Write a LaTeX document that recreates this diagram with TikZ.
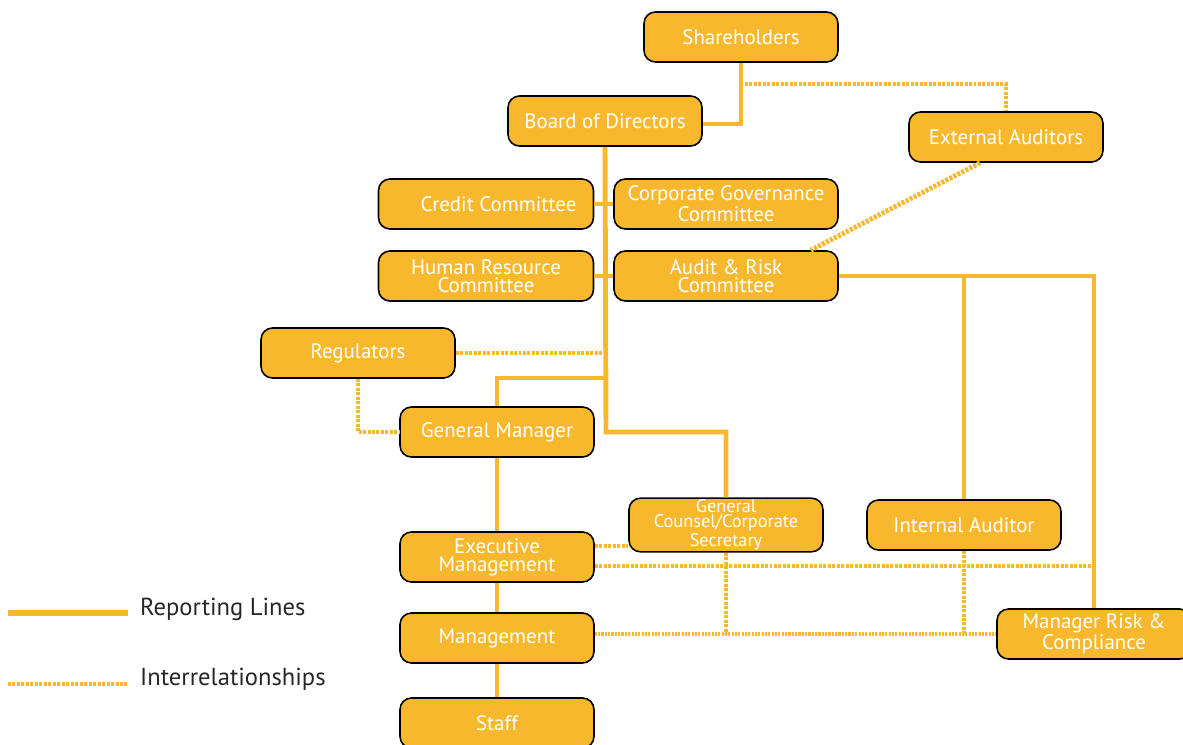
\documentclass[tikz,border=0pt]{standalone}
\usepackage{fontspec}
\setmainfont{PT Sans}
\definecolor{govorange}{HTML}{F7B82E}
\begin{document}
\begin{tikzpicture}[x=0.02cm,y=-0.02cm]
			\tikzstyle{box}=[draw=black, line width=0.9pt, fill=govorange, rounded corners=6.5pt, minimum width=3.88cm, minimum height=1cm, inner sep=1pt, text=white, align=center, font=\fontsize{11.9}{10.2}\selectfont]
			\tikzstyle{rep}=[draw=govorange, line width=2.8pt]
			\tikzstyle{rel}=[draw=govorange, line width=2.8pt, dash pattern=on 1.7pt off 0.85pt]
			\tikzstyle{relthin}=[draw=govorange, line width=1.8pt, dash pattern=on 1.2pt off 0.7pt]
			\tikzstyle{legend}=[anchor=west, text=black!85, font=\fontsize{14}{14}\selectfont]
			\useasboundingbox (0,0) rectangle (1183,744);
			\clip (0,0) rectangle (1183,744);

			\node [box] (sh) at (741,37) {Shareholders};
			\node [box] (bod) at (605,121) {Board of Directors};
			\node [box] (ea) at (1006,137) {External Auditors};
			\node [box, minimum width=4.3cm] (cc) at (486,204) {\hspace{1.2em}Credit Committee};
			\node [box, minimum width=4.48cm] (cg) at (726,204) {Corporate Governance\\Committee};
			\node [box, minimum width=4.3cm] (hr) at (486,276) {Human Resource\\Committee};
			\node [box, minimum width=4.48cm] (ar) at (726,276) {Audit \& Risk\\Committee};
			\node [box] (reg) at (358,353) {Regulators};
			\node [box] (gm) at (497,432) {General Manager};
			\node [box, font=\fontsize{10.4}{8.5}\selectfont] (gc) at (726,525) {General\\Counsel/Corporate\\Secretary};
			\node [box] (ia) at (964,525) {Internal Auditor};
			\node [box] (em) at (497,557) {Executive\\Management};
			\node [box] (mg) at (497,638) {Management};
			\node [box] (st) at (497,723) {Staff};
			\node [box] (mrc) at (1094,634) {Manager Risk \&\\Compliance};

			\coordinate (sx) at (745,84);
			\coordinate (tgm) at (606,378);
			\coordinate (tgc) at (606,432);

			\draw [rep] (sh.south) |- ([yshift=-0.06cm]bod.east);
			\draw [rel] (sx) -| (ea.north);
			\draw [rep] (bod.south) -- (tgc) -| (gc.north);
			\draw [rep] (cc.east) -- (cg.west);
			\draw [rep] (hr.east) -- (ar.west);
			\draw [rel] (reg.east) -- (reg.east -| bod.south);
			\draw [rep] (tgm) -| (gm.north);
			\draw [rel] (reg.south) |- (gm.west);
			\draw [rel] ([xshift=-0.52cm]ea.south) -- ([xshift=-0.56cm]ar.north east);
			\draw [rep] (ar.east) -- (ar.east -| mrc.north) -- (mrc.north);
			\draw [rep] (ia.north) -- (ia.north |- ar.east);
			\draw [rep] (gm.south) -- (em.north);
			\draw [rep] (em.south) -- (mg.north);
			\draw [rep] (mg.south) -- (st.north);
			\draw [rel] ([yshift=0.22cm]em.east) -- ([yshift=0.22cm]em.east -| gc.west);
			\draw [rel] ([yshift=-0.18cm]em.east) -- ([yshift=-0.18cm]em.east -| mrc.north);
			\draw [rel] (gc.south) -- (gc.south |- mrc.west);
			\draw [rel] (ia.south) -- (ia.south |- mrc.west);
			\draw [relthin] (mg.east |- mrc.west) -- (mrc.west);

			\coordinate (l1a) at (8,613);
			\coordinate (l1b) at (128,613);
			\coordinate (l2a) at (8,684);
			\coordinate (l2b) at (128,684);
			\draw [rep, line width=3.2pt] (l1a) -- (l1b);
			\draw [rel] (l2a) -- (l2b);
			\node [legend] (lrep) at (134,609) {Reporting Lines};
			\node [legend] (lrel) at (134,679) {Interrelationships};
		\end{tikzpicture}
\end{document}
